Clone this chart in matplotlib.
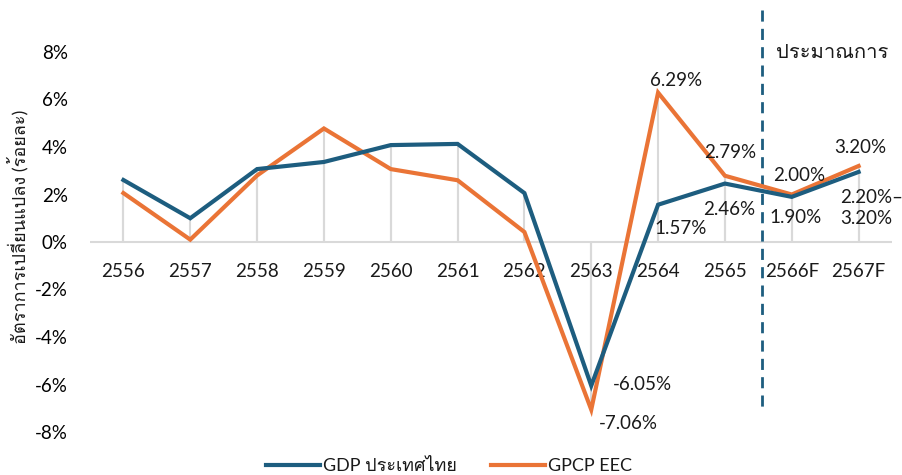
import numpy as np
import matplotlib
matplotlib.use("Agg")
import matplotlib.pyplot as plt
from matplotlib import font_manager
from matplotlib.ft2font import FT2Font
from matplotlib.lines import Line2D

# data
years = ['2556', '2557', '2558', '2559', '2560', '2561', '2562', '2563', '2564', '2565', '2566F', '2567F']
gdp = [2.61, 1.0, 3.07, 3.37, 4.08, 4.13, 2.06, -6.05, 1.57, 2.46, 1.90, 2.95]
gpcp = [2.06, 0.1, 2.80, 4.78, 3.07, 2.60, 0.42, -7.06, 6.29, 2.79, 2.00, 3.20]
yticks = [-8, -6, -4, -2, 0, 2, 4, 6, 8]
forecast_split = 9.55

# labels: (index, text, dx pt, dy pt, ha)
gdp_labels = [(7, '-6.05%', 37, 1, 'center'), (8, '1.57%', 16, -17, 'center'),
              (9, '2.46%', 3, -19, 'center'), (10, '1.90%', 3, -15, 'center'),
              (11, '2.20%–\n3.20%', -13, -26, 'left')]
gpcp_labels = [(7, '-7.06%', 27, -10, 'center'), (8, '6.29%', 13, 9, 'center'),
               (9, '2.79%', 4, 17, 'center'), (10, '2.00%', 5, 14, 'center'),
               (11, '3.20%', 1, 13, 'center')]

BLUE = '#1D5D7F'
ORANGE = '#EA7436'
GRID = '#D9D9D9'
TXT = '#1A1A1A'
FS = 13.5


def find_thai_font():
    for f in font_manager.fontManager.ttflist:
        try:
            if FT2Font(f.fname).get_char_index(0x0E01):
                return f.name
        except Exception:
            pass
    return None


thai = find_thai_font()
fams = ['Lato', 'DejaVu Sans']
if thai:
    fams.insert(1, thai)
plt.rcParams['font.family'] = fams
plt.rcParams['text.color'] = TXT

fig = plt.figure(figsize=(9.03, 4.75), dpi=100)
ax = fig.add_axes([90 / 903, 0, (892 - 90) / 903, 1])
x = np.arange(len(years))
ax.set_xlim(-0.5, len(years) - 0.5)
ax.set_ylim((242 - 475) / 23.75, 242 / 23.75)
for s in ax.spines.values():
    s.set_visible(False)
ax.set_xticks([])
ax.set_yticks(yticks)
ax.set_yticklabels(['%d%%' % v for v in yticks], fontsize=FS)
ax.tick_params(axis='y', length=0, pad=16)

ax.axhline(0, color=GRID, lw=1.5, zorder=1)
for xi, a, b in zip(x, gdp, gpcp):
    ax.vlines(xi, 0, a, color=GRID, lw=1.5, zorder=1)
    ax.vlines(xi, 0, b, color=GRID, lw=1.5, zorder=1)

for xi, lab in zip(x, years):
    ax.text(xi, -1.26, lab, ha='center', va='center', fontsize=FS)

ax.plot(x, gpcp, color=ORANGE, lw=3, zorder=3, solid_joinstyle='miter')
ax.plot(x, gdp, color=BLUE, lw=3, zorder=4, solid_joinstyle='miter')

for series, labels in ((gdp, gdp_labels), (gpcp, gpcp_labels)):
    for i, t, dx, dy, ha in labels:
        ax.annotate(t, (x[i], series[i]), xytext=(dx, dy), textcoords='offset points',
                    ha=ha, va='center', fontsize=FS, linespacing=1.25, zorder=5)

ax.plot([forecast_split, forecast_split], [9.77, -7.07], color=BLUE, lw=2,
        ls=(0, (4, 2.6)), zorder=2)
ax.text(10.6, 8.0, 'ประมาณการ', ha='center', va='center', fontsize=14.5)

fig.text(18 / 903, 1 - 227 / 475, 'อัตราการเปลี่ยนแปลง (ร้อยละ)', rotation=90,
         ha='center', va='center', fontsize=13)

handles = [Line2D([], [], color=BLUE, lw=3), Line2D([], [], color=ORANGE, lw=3)]
fig.legend(handles, ['GDP ประเทศไทย', 'GPCP EEC'], loc='center',
           bbox_to_anchor=(449 / 903, 1 - 466 / 475), ncol=2, frameon=False,
           fontsize=13, handlelength=3.0, handletextpad=0.15, columnspacing=1.9,
           borderpad=0, borderaxespad=0)

fig.savefig('out.png', dpi=100)
